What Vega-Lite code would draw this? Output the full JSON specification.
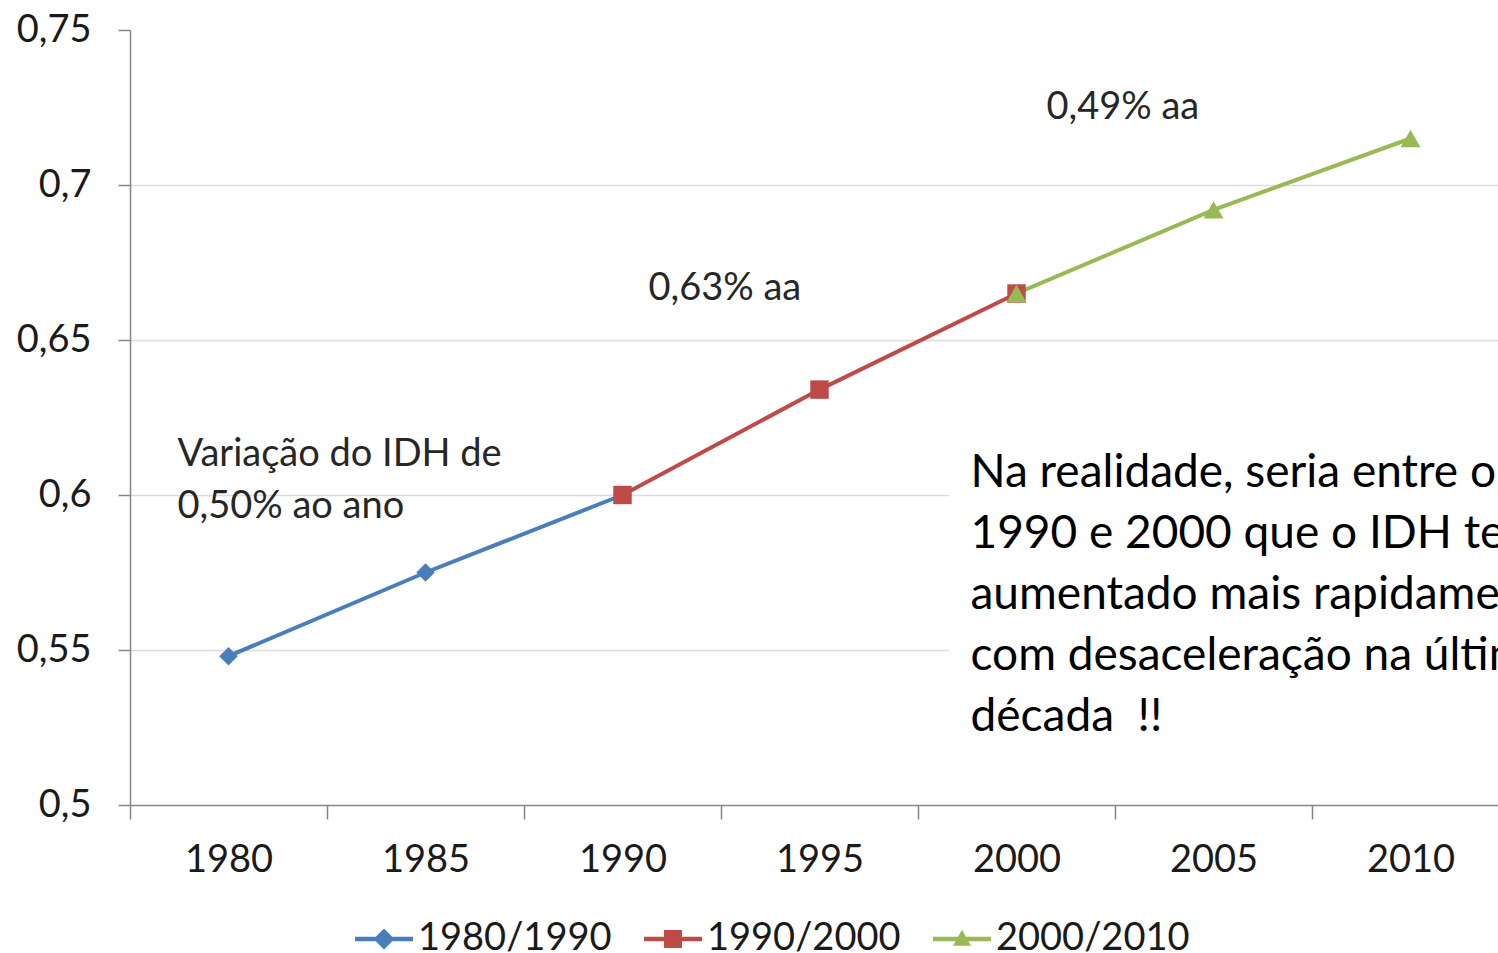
{
  "$schema": "https://vega.github.io/schema/vega-lite/v6.json",
  "width": 1368,
  "height": 775,
  "autosize": {"type": "none"},
  "padding": {"left": 130, "top": 30, "right": 0, "bottom": 148},
  "background": "white",
  "config": {"view": {"stroke": null}, "font": "Lato"},
  "datasets": {
    "idh": [
      {"year": "1980", "idh": 0.548, "series": "1980/1990"},
      {"year": "1985", "idh": 0.575, "series": "1980/1990"},
      {"year": "1990", "idh": 0.600, "series": "1980/1990"},
      {"year": "1990", "idh": 0.600, "series": "1990/2000"},
      {"year": "1995", "idh": 0.634, "series": "1990/2000"},
      {"year": "2000", "idh": 0.665, "series": "1990/2000"},
      {"year": "2000", "idh": 0.665, "series": "2000/2010"},
      {"year": "2005", "idh": 0.692, "series": "2000/2010"},
      {"year": "2010", "idh": 0.715, "series": "2000/2010"}
    ],
    "box": [
      {"year": "2000", "top": 0.63, "bottom": 0.52},
      {"year": "2005", "top": 0.63, "bottom": 0.52},
      {"year": "2010", "top": 0.63, "bottom": 0.52}
    ],
    "notes": [
      {"id": "a", "year": "1980", "idh": 0.6129, "text": "Variação do IDH de\n0,50% ao ano"},
      {"id": "b", "year": "1990", "idh": 0.6665, "text": "0,63% aa"},
      {"id": "c", "year": "2000", "idh": 0.7250, "text": "0,49% aa"},
      {"id": "d", "year": "2000", "idh": 0.6071, "text": "Na realidade, seria entre o\n1990 e 2000 que o IDH teria\naumentado mais rapidamente\ncom desaceleração na última\ndécada\u00a0 !!"}
    ]
  },
  "encoding": {
    "x": {
      "field": "year",
      "type": "ordinal",
      "scale": {"type": "band", "range": [0, 1379], "paddingInner": 0, "paddingOuter": 0},
      "axis": {
        "title": null,
        "labelAngle": 0,
        "tickBand": "extent",
        "tickSize": 14,
        "tickColor": "#868686",
        "domainColor": "#868686",
        "domainWidth": 1.5,
        "tickWidth": 1.5,
        "labelFont": "Lato",
        "labelFontSize": 38,
        "labelColor": "#1a1a1a",
        "labelPadding": 22,
        "grid": false
      }
    },
    "y": {
      "field": "idh",
      "type": "quantitative",
      "scale": {"domain": [0.5, 0.75], "zero": false, "nice": false},
      "axis": {
        "title": null,
        "values": [0.5, 0.55, 0.6, 0.65, 0.7, 0.75],
        "labelExpr": "replace(format(datum.value, '.2~f'), '.', ',')",
        "tickSize": 12,
        "tickColor": "#868686",
        "domainColor": "#868686",
        "domainWidth": 1.5,
        "tickWidth": 1.5,
        "labelFont": "Lato",
        "labelFontSize": 38,
        "labelColor": "#1a1a1a",
        "labelPadding": 27,
        "grid": true,
        "gridColor": "#D9DCE3",
        "gridWidth": 1.5,
        "gridOpacity": {"condition": {"test": "datum.value > 0.74 || datum.value < 0.51", "value": 0}, "value": 1}
      }
    }
  },
  "layer": [
    {
      "data": {"name": "box"},
      "mark": {"type": "rect", "fill": "white", "xOffset": 31},
      "encoding": {
        "y": {"field": "top", "type": "quantitative"},
        "y2": {"field": "bottom"}
      }
    },
    {
      "data": {"name": "idh"},
      "transform": [{"filter": "datum.series === '1980/1990'"}],
      "mark": {"type": "line", "strokeWidth": 4, "color": "#4A7EBB"},
      "encoding": {}
    },
    {
      "data": {"name": "idh"},
      "transform": [{"filter": "datum.series === '1990/2000'"}],
      "mark": {"type": "line", "strokeWidth": 4, "color": "#BE4B48"},
      "encoding": {}
    },
    {
      "data": {"name": "idh"},
      "transform": [{"filter": "datum.series === '2000/2010'"}],
      "mark": {"type": "line", "strokeWidth": 4, "color": "#98B954"},
      "encoding": {}
    },
    {
      "data": {"name": "idh"},
      "transform": [{"filter": "datum.series === '1980/1990'"}],
      "mark": {"type": "point", "filled": true, "opacity": 1, "shape": "diamond", "size": 340, "color": "#4A7EBB"}
    },
    {
      "data": {"name": "idh"},
      "transform": [{"filter": "datum.series === '1990/2000'"}],
      "mark": {"type": "point", "filled": true, "opacity": 1, "shape": "square", "size": 340, "color": "#BE4B48"}
    },
    {
      "data": {"name": "idh"},
      "transform": [{"filter": "datum.series === '2000/2010'"}],
      "mark": {"type": "point", "filled": true, "opacity": 1, "shape": "triangle-up", "size": 400, "color": "#98B954"}
    },
    {
      "data": {"name": "idh"},
      "mark": {"type": "point", "filled": true, "opacity": 0},
      "encoding": {
        "color": {
          "field": "series",
          "type": "nominal",
          "scale": {"domain": ["1980/1990", "1990/2000", "2000/2010"], "range": ["#4A7EBB", "#BE4B48", "#98B954"]},
          "legend": {
            "title": null,
            "orient": "none",
            "direction": "horizontal",
            "legendX": 225,
            "legendY": 880,
            "labelFont": "Lato",
            "labelFontSize": 38,
            "labelColor": "#1a1a1a",
            "labelLimit": 500,
            "labelOffset": 5,
            "columnPadding": 32,
            "symbolSize": 3364,
            "symbolOpacity": 1,
            "symbolStrokeWidth": 0
          }
        },
        "shape": {
          "field": "series",
          "type": "nominal",
          "scale": {
            "domain": ["1980/1990", "1990/2000", "2000/2010"],
            "range": [
              "M-1,-0.075H1V0.075H-1Z M-0.36,0L0,-0.36L0.36,0L0,0.36Z",
              "M-1,-0.075H1V0.075H-1Z M-0.31,-0.31H0.31V0.31H-0.31Z",
              "M-1,-0.075H1V0.075H-1Z M0,-0.32L0.31,0.23L-0.31,0.23Z"
            ]
          },
          "legend": {
            "title": null,
            "orient": "none",
            "direction": "horizontal",
            "legendX": 225,
            "legendY": 880,
            "labelFont": "Lato",
            "labelFontSize": 38,
            "labelColor": "#1a1a1a",
            "labelLimit": 500,
            "labelOffset": 5,
            "columnPadding": 32,
            "symbolSize": 3364,
            "symbolOpacity": 1,
            "symbolStrokeWidth": 0
          }
        }
      }
    },
    {
      "data": {"name": "notes"},
      "transform": [{"filter": "datum.id === 'a'"}],
      "mark": {"type": "text", "align": "left", "baseline": "middle", "dx": -51, "font": "Lato", "fontSize": 38, "lineHeight": 52, "lineBreak": "\n", "color": "#262626"},
      "encoding": {"text": {"field": "text"}}
    },
    {
      "data": {"name": "notes"},
      "transform": [{"filter": "datum.id === 'b'"}],
      "mark": {"type": "text", "align": "left", "baseline": "middle", "dx": 26, "font": "Lato", "fontSize": 38, "color": "#262626"},
      "encoding": {"text": {"field": "text"}}
    },
    {
      "data": {"name": "notes"},
      "transform": [{"filter": "datum.id === 'c'"}],
      "mark": {"type": "text", "align": "left", "baseline": "middle", "dx": 30, "font": "Lato", "fontSize": 38, "color": "#262626"},
      "encoding": {"text": {"field": "text"}}
    },
    {
      "data": {"name": "notes"},
      "transform": [{"filter": "datum.id === 'd'"}],
      "mark": {"type": "text", "align": "left", "baseline": "middle", "dx": -46, "font": "Lato", "fontSize": 46, "lineHeight": 61, "lineBreak": "\n", "color": "#000000"},
      "encoding": {"text": {"field": "text"}}
    }
  ]
}
